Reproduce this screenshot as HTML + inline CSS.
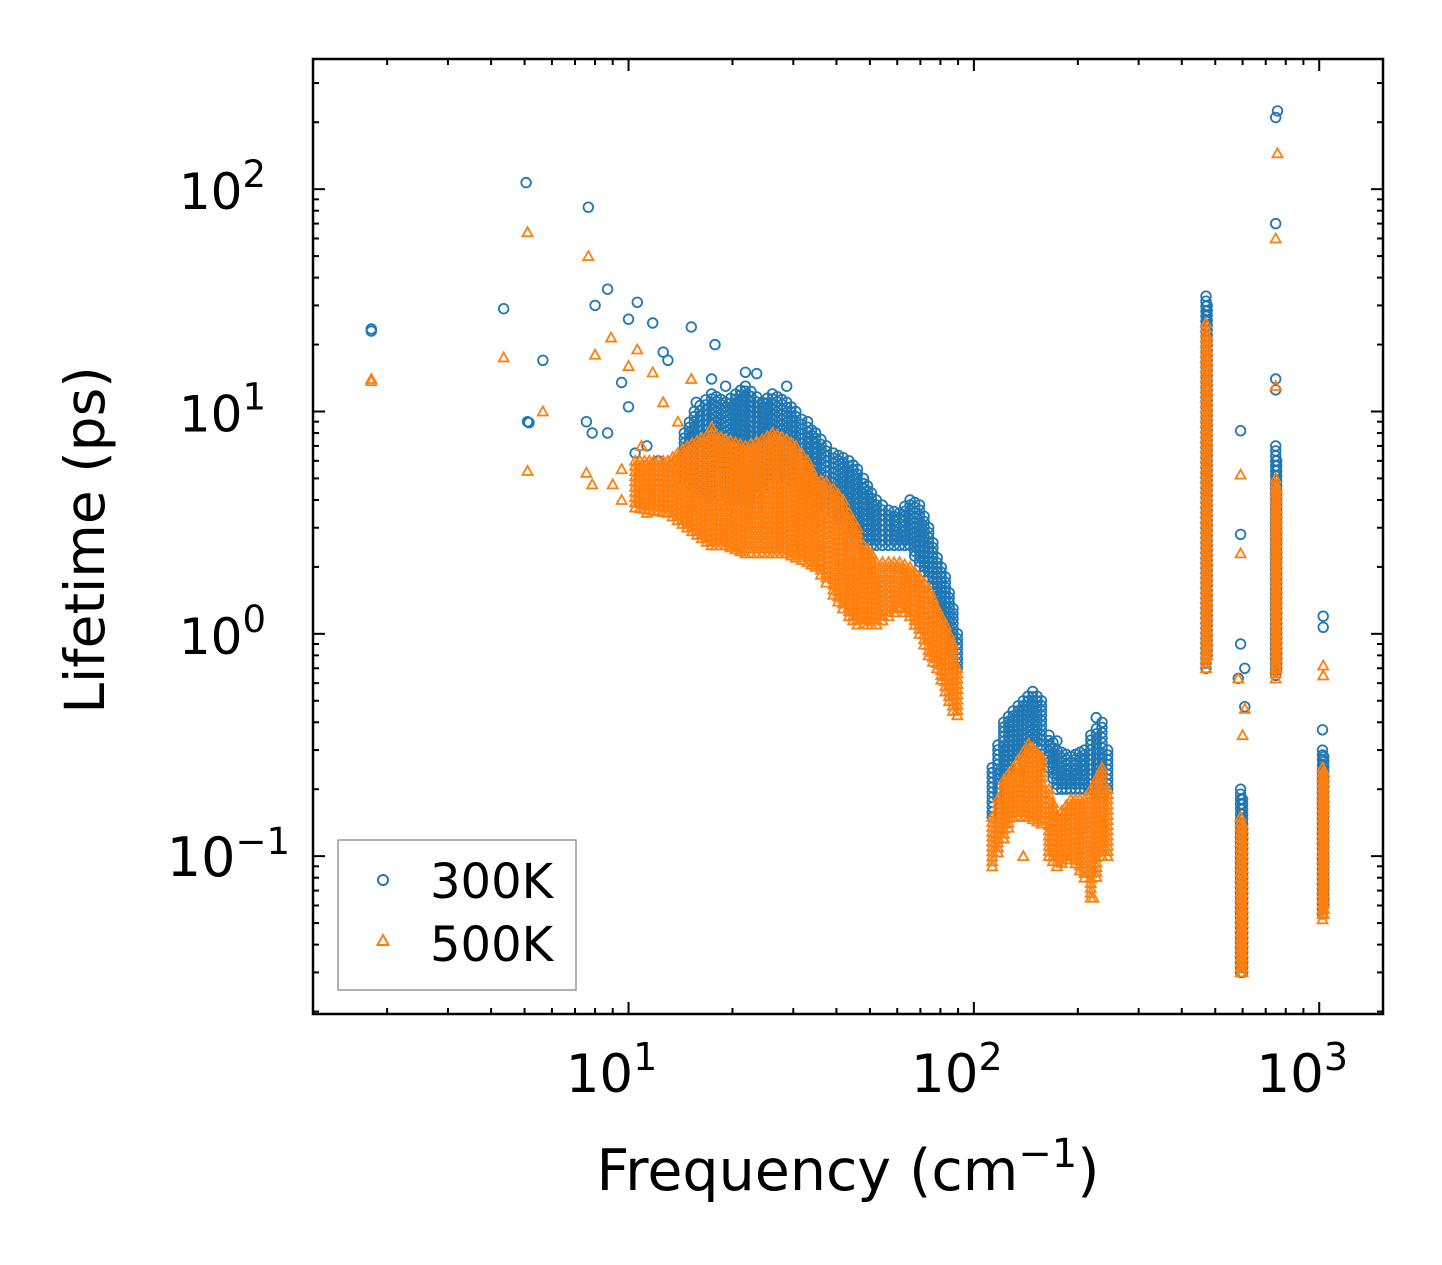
<!DOCTYPE html>
<html><head><meta charset="utf-8"><style>
body{margin:0;background:#fff;}
svg{display:block;font-family:"DejaVu Sans","Liberation Sans",sans-serif;}
</style></head><body>
<svg id="chart" width="1442" height="1265" viewBox="0 0 1442 1265" xmlns="http://www.w3.org/2000/svg">
<rect width="1442" height="1265" fill="#fff"/>
<g id="marks"></g>
<g id="axes"></g>
<text x="848" y="1190" font-size="57" text-anchor="middle">Frequency (cm<tspan dy="-23" font-size="40">−1</tspan><tspan dy="23">)</tspan></text>
<text transform="translate(104,540) rotate(-90)" font-size="55" text-anchor="middle">Lifetime (ps)</text>
<g>
<rect x="338" y="840" width="238" height="150" fill="#fff" stroke="#999" stroke-width="1.5"/>
<circle cx="383" cy="880" r="5" fill="none" stroke="#1f77b4" stroke-width="2"/>
<text x="430" y="898" font-size="48">300K</text>
<polygon points="383,935 388.5,945 377.5,945" fill="none" stroke="#ff7f0e" stroke-width="2"/>
<text x="430" y="961" font-size="48">500K</text>
</g>
</svg>
<script>
const L=313,R=1383,T=59,B=1014;
const xMinLog=Math.log10(1.22), xMaxLog=Math.log10(1530);
const yMinLog=Math.log10(0.0195), yMaxLog=Math.log10(385);
function xs(v){return L+(Math.log10(v)-xMinLog)/(xMaxLog-xMinLog)*(R-L);}
function ys(v){return B-(Math.log10(v)-yMinLog)/(yMaxLog-yMinLog)*(B-T);}

// ---- 300K isolated points [freq, lifetime]
const pts300=[[1.8,23.5],[1.8,23],[4.35,29],[5.05,107],[5.1,9],[5.15,8.9],[5.65,17],[7.65,83],[8,30],[8.7,35.5],[7.55,9],[7.85,8],[8.7,8],[9.55,13.5],[10,26],[10.6,31],[10,10.5],[10.45,6.5],[11.75,25],[12.6,18.5],[13,17],[15.2,24],[17.8,20],[11.3,7],[12.2,6],[13.9,6],[15.7,11],[17.4,14],[19.1,13],[21.8,15],[23.5,14.8],[28.7,13],[33,9],[34.8,8],[592,8.2],[592,2.8],[592,0.9],[609,0.7],[583,0.63],[609,0.47],[748,14],[748,12.5],[748,70],[748,210],[757,225],[1027,1.2],[1027,1.07],[1022,0.37],[174,0.33],[226,0.42]];
// 300K dense bands [freq, low, high]
const band300=[
 [[14.5,5,8],[15.5,4.5,10],[17.4,4,12],[19.1,4,11],[21.8,4,13],[24.4,4.5,11],[26.1,5,12],[28.7,5,11],[30.5,4.8,10],[33,4.3,8.5],[34.8,4,8],[37.4,3.7,7],[39.2,3.5,6.5],[41.8,3.2,6.2],[43.5,3,6],[46,2.8,5.5],[47.9,2.5,5],[50.5,2.5,4.3],[52.2,2.5,4],[56.6,2.5,3.6],[60.9,2.5,3.5],[65.3,2.5,4],[69.6,2,3.8],[74,1.8,3],[78.3,1.3,2.2],[82.7,1,1.8],[87,0.7,1.3],[89.6,0.7,1]],
 [[113,0.15,0.25],[122,0.22,0.4],[130,0.27,0.45],[139,0.3,0.5],[148,0.32,0.55],[157,0.3,0.5],[165,0.25,0.35],[174,0.2,0.3],[191,0.2,0.28],[209,0.2,0.3],[218,0.2,0.35],[235,0.2,0.4],[244,0.2,0.3]],
 [[470,0.7,33],[474,0.8,30]],
 [[592,0.03,0.2],[600,0.03,0.18]],
 [[748,0.65,7],[753,0.7,6]],
 [[1022,0.055,0.3],[1031,0.06,0.28]]
];
// ---- 500K isolated points
const pts500=[[1.8,14],[1.8,13.7],[4.35,17.5],[5.1,64],[5.1,5.4],[5.65,10],[7.65,50],[8,18],[8.9,21.5],[7.55,5.3],[7.85,4.7],[9,4.7],[9.55,4],[10,16],[10.6,19],[10.9,7],[11.75,15],[12.6,11],[15.2,14],[11.3,3.5],[13,3.5],[9.55,5.5],[13.9,9],[17.4,8.5],[592,5.2],[592,2.3],[583,0.63],[609,0.46],[600,0.35],[748,60],[757,145],[748,13],[1027,0.72],[1027,0.65],[139,0.1],[222,0.065]];
const band500=[
 [[10.45,3.7,6],[13,3.5,6],[14.8,3,7],[17.4,2.5,8],[19.1,2.5,7.5],[21.8,2.3,7],[24.4,2.3,7.5],[26.1,2.3,8],[28.7,2.3,7.5],[30.5,2.2,7],[33,2.1,6],[34.8,2,5],[37.4,1.7,4.8],[39.2,1.5,4.5],[41.8,1.3,4],[43.5,1.2,3.5],[46,1.1,3],[47.9,1.1,2.5],[50.5,1.1,2.3],[52.2,1.1,2.1],[56.6,1.2,2.1],[60.9,1.3,2.1],[65.3,1.2,2],[69.6,1,1.8],[74,0.8,1.6],[78.3,0.7,1.3],[82.7,0.55,1.1],[87,0.45,0.9],[89.6,0.43,0.7]],
 [[113,0.09,0.15],[122,0.12,0.22],[130,0.15,0.25],[144,0.15,0.32],[157,0.14,0.28],[165,0.1,0.2],[174,0.09,0.15],[191,0.1,0.18],[209,0.08,0.18],[218,0.065,0.2],[235,0.1,0.25],[244,0.1,0.2]],
 [[470,0.7,25],[474,0.8,22]],
 [[592,0.03,0.15],[600,0.03,0.14]],
 [[748,0.63,5],[753,0.7,4.5]],
 [[1022,0.052,0.25],[1031,0.055,0.24]]
];

const NS="http://www.w3.org/2000/svg";
const marks=document.getElementById('marks');
function circ(f,v,g){const c=document.createElementNS(NS,'circle');


c.setAttribute('cx',xs(f).toFixed(1));c.setAttribute('cy',ys(v).toFixed(1));c.setAttribute('r',4.8);
c.setAttribute('fill','none');c.setAttribute('stroke','#1f77b4');c.setAttribute('stroke-width',1.8);g.appendChild(c);}
function tri(f,v,g){const x=xs(f),y=ys(v);const p=document.createElementNS(NS,'polygon');


p.setAttribute('points',`${x},${y-5} ${x+5},${y+4} ${x-5},${y+4}`);
p.setAttribute('fill','none');p.setAttribute('stroke','#ff7f0e');p.setAttribute('stroke-width',1.8);g.appendChild(p);}
function drawBands(bands,fn,g,sp){
 bands.forEach(grp=>{
  for(let i=0;i<grp.length;i++){
   const a=grp[i],b=grp[i+1]||a;
   const x0=xs(a[0]),x1=xs(b[0]);const steps=Math.max(1,Math.round((x1-x0)/sp));
   for(let s=0;s<(i==grp.length-1?1:steps);s++){
    const t=s/steps;
    const lf=Math.log10(a[0])+t*(Math.log10(b[0])-Math.log10(a[0]));
    const lo=Math.log10(a[1])+t*(Math.log10(b[1])-Math.log10(a[1]));
    const hi=Math.log10(a[2])+t*(Math.log10(b[2])-Math.log10(a[2]));
    const pix=(hi-lo)*222;const n=Math.max(1,Math.round(pix/sp));
    for(let k=0;k<=n;k++){fn(Math.pow(10,lf),Math.pow(10,lo+(hi-lo)*k/n),g);}
   }
  }
 });
}
const g3=document.createElementNS(NS,'g');


marks.appendChild(g3);
pts300.forEach(p=>circ(p[0],p[1],g3));drawBands(band300,circ,g3,5);
const g5=document.createElementNS(NS,'g');


marks.appendChild(g5);
pts500.forEach(p=>tri(p[0],p[1],g5));drawBands(band500,tri,g5,5);

const ax=document.getElementById('axes');
let h=`<rect x="${L}" y="${T}" width="${R-L}" height="${B-T}" fill="none" stroke="#000" stroke-width="2.5"/>`;
const xTickExp=[1,2,3], yTickExp=[-1,0,1,2];
for(let d=0;d<=3;d++)for(let m=1;m<10;m++){const v=m*Math.pow(10,d);if(v<1.22||v>1530)continue;const x=xs(v);const len=m==1?12:6;
 h+=`<line x1="${x}" y1="${B}" x2="${x}" y2="${B-len}" stroke="#000" stroke-width="2"/><line x1="${x}" y1="${T}" x2="${x}" y2="${T+len}" stroke="#000" stroke-width="2"/>`;}
for(let d=-2;d<=2;d++)for(let m=1;m<10;m++){const v=m*Math.pow(10,d);if(v<0.0195||v>385)continue;const y=ys(v);const len=m==1?12:6;
 h+=`<line x1="${L}" y1="${y}" x2="${L+len}" y2="${y}" stroke="#000" stroke-width="2"/><line x1="${R}" y1="${y}" x2="${R-len}" y2="${y}" stroke="#000" stroke-width="2"/>`;}
xTickExp.forEach(e=>{const x=xs(Math.pow(10,e));h+=`<text x="${x-17}" y="1092" font-size="53" text-anchor="middle">10<tspan dy="-22" font-size="38">${e}</tspan></text>`;});
yTickExp.forEach(e=>{const y=ys(Math.pow(10,e));h+=`<text x="${e<0?290:266}" y="${y+20}" font-size="${e<0?54:50}" text-anchor="end">10<tspan dy="-22" font-size="37">${e<0?'−'+(-e):e}</tspan></text>`;});
ax.innerHTML=h;
</script>
</body></html>
